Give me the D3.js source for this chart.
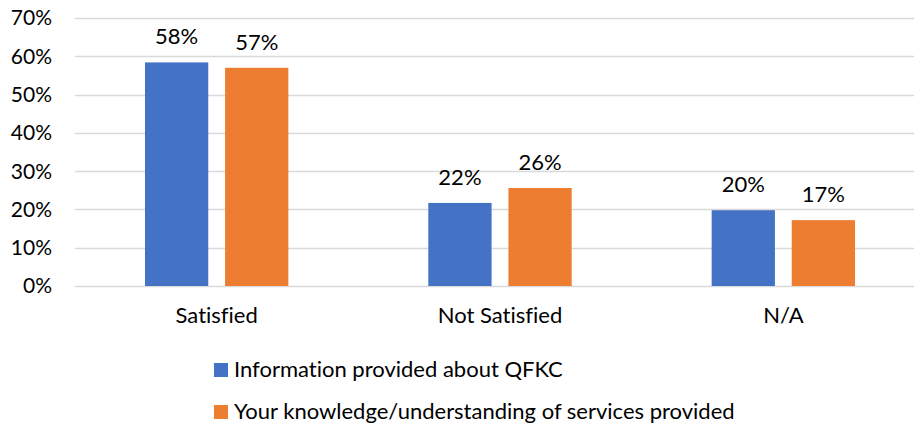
<!DOCTYPE html>
<html>
<head>
<meta charset="utf-8">
<script src="https://cdn.jsdelivr.net/npm/d3@7"></script>
<style>
  html, body { margin: 0; padding: 0; background: #fff; }
  svg { display: block; }
  text { font-family: Lato, "Open Sans", sans-serif; fill: #000; font-variant-ligatures: none; }
</style>
</head>
<body>
<svg id="chart" width="914" height="427"></svg>
<script>
const categories = ["Satisfied", "Not Satisfied", "N/A"];
const seriesNames = ["Information provided about QFKC", "Your knowledge/understanding of services provided"];
const infoValues = [0.584, 0.217, 0.198];
const knowledgeValues = [0.570, 0.256, 0.172];
const yTicks = [0, 0.1, 0.2, 0.3, 0.4, 0.5, 0.6, 0.7];
const colors = ["#4472C4", "#ED7D31"];

const svg = d3.select("#chart");
const fontSize = 22;

const x0 = d3.scaleBand().domain(categories).range([75, 925]).padding(0);
const bw = x0.bandwidth();
const x1 = d3.scaleBand().domain(seriesNames).range([bw * 0.247, bw * 0.753]).paddingInner(0.21).paddingOuter(0);
const y = d3.scaleLinear().domain([0, 0.7]).range([286, 18]);

// gridlines
svg.append("g").selectAll("line").data(yTicks).join("line")
  .attr("x1", 75).attr("x2", 914)
  .attr("y1", d => Math.round(y(d)) + 0.5).attr("y2", d => Math.round(y(d)) + 0.5)
  .attr("stroke", "#d9d9d9").attr("stroke-width", 1.5);

// y axis labels
const yAxis = d3.axisLeft(y).tickValues(yTicks).tickFormat(d3.format(".0%")).tickSize(0).tickPadding(0);
const yg = svg.append("g").attr("transform", "translate(52,0)").call(yAxis);
yg.select(".domain").remove();
yg.selectAll("text").attr("font-size", 21).attr("font-family", "Lato").attr("fill", "#000").attr("dy", "0.33em");

const data = categories.map((c, i) => ({ cat: c, vals: [infoValues[i], knowledgeValues[i]] }));

const groups = svg.append("g").selectAll("g").data(data).join("g")
  .attr("transform", d => `translate(${x0(d.cat)},0)`);

groups.selectAll("rect").data(d => d.vals.map((v, j) => ({ s: seriesNames[j], v, j }))).join("rect")
  .attr("x", d => x1(d.s)).attr("width", x1.bandwidth())
  .attr("y", d => y(d.v)).attr("height", d => y(0) - y(d.v))
  .attr("fill", d => colors[d.j]);

groups.selectAll("text.lbl").data(d => d.vals.map((v, j) => ({ s: seriesNames[j], v, j }))).join("text")
  .attr("class", "lbl")
  .attr("x", d => x1(d.s) + x1.bandwidth() / 2)
  .attr("y", d => y(d.v) - 18)
  .attr("text-anchor", "middle")
  .attr("font-size", fontSize)
  .text(d => d3.format(".0%")(d.v));

// x axis labels
const xAxis = d3.axisBottom(x0).tickSize(0).tickPadding(0);
const xg = svg.append("g").attr("transform", "translate(0,323)").call(xAxis);
xg.select(".domain").remove();
xg.selectAll("text").attr("font-size", fontSize).attr("font-family", "Lato").attr("fill", "#000").attr("dy", 0);

// legend
const legend = svg.append("g").selectAll("g").data(seriesNames).join("g")
  .attr("transform", (d, i) => `translate(214,${363 + i * 42})`);
legend.append("rect").attr("width", 14).attr("height", 14).attr("fill", (d, i) => colors[i]);
legend.append("text").attr("x", 20).attr("y", 14).attr("font-size", fontSize).text(d => d);
</script>
</body>
</html>
